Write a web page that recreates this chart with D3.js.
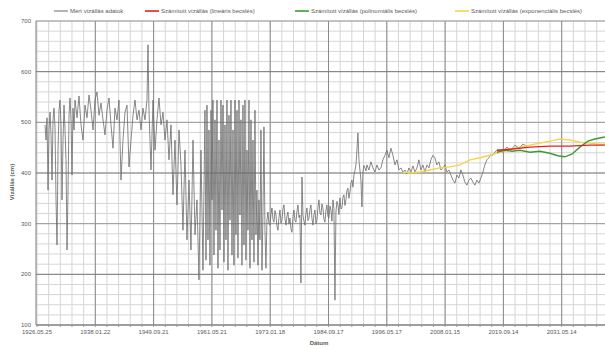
<!DOCTYPE html>
<html><head><meta charset="utf-8">
<script src="https://cdn.jsdelivr.net/npm/d3@7"></script>
<style>body{margin:0;background:#fff}svg{display:block}text{font-family:"Liberation Sans",Arial,sans-serif}</style>
</head><body><svg id="c" width="605" height="349"></svg>
<script>
// ---- data ----
const xTickLabels = ["1926.05.25","1938.01.22","1949.09.21","1961.05.21","1973.01.18","1984.09.17","1996.05.17","2008.01.15","2019.09.14","2031.05.14"];
const yTicks = [100,200,300,400,500,600,700];
const seriesNames = ["Mért vízállás adatok","Számított vízállás (lineáris becslés)","Számított vízállás (polinomiális becslés)","Számított vízállás (exponenciális becslés)"];
const seriesColors = ["#6a6a6a","#e8211d","#3f9a35","#f5d34a"];
// measured [decimal year, level]
const measured = [
[1928.0,495],[1928.2,465],[1928.4,509],[1928.6,366],[1928.8,485],[1929.0,520],[1929.2,475],[1929.4,386],[1929.6,505],[1929.8,528],
[1930.0,489],[1930.2,347],[1930.4,258],[1930.6,445],[1930.8,524],[1931.0,544],[1931.2,495],[1931.4,347],[1931.6,465],[1931.8,534],
[1932.0,485],[1932.2,426],[1932.4,248],[1932.6,366],[1932.8,514],[1933.0,548],[1933.2,505],[1933.4,396],[1933.6,528],[1933.8,485],[1934.0,544],
[1934.4,509],[1934.8,552],[1935.2,495],[1935.6,465],[1936.0,534],[1936.4,509],[1936.8,554],[1937.2,524],[1937.6,485],[1938.0,544],
[1938.4,560],[1938.8,514],[1939.2,538],[1939.6,505],[1940.0,475],[1940.4,524],[1940.8,548],[1941.2,495],[1941.6,449],[1942.0,528],
[1942.4,505],[1942.8,544],[1943.2,386],[1943.6,465],[1944.0,520],[1944.4,534],[1944.8,412],[1945.2,465],[1945.6,514],[1946.0,544],
[1946.4,505],[1946.8,524],[1947.2,485],[1947.6,528],[1948.0,505],[1948.4,544],[1948.6,653],[1948.8,524],[1949.2,406],[1949.6,544],
[1950.0,445],[1950.4,505],[1950.8,548],[1951.2,495],[1951.6,520],[1952.0,465],[1952.4,505],
[1952.8,426],[1953.2,495],[1953.6,357],[1954.0,465],[1954.4,337],[1954.8,485],[1955.2,416],[1955.6,287],[1956.0,445],[1956.4,268],
[1956.8,386],[1957.2,248],[1957.6,465],[1958.0,278],[1958.4,347],[1958.8,189],[1959.2,445],[1959.6,208],[1960.0,524],
[1960.2,228],[1960.4,534],[1960.6,268],[1960.8,485],[1961.0,218],[1961.2,524],[1961.4,347],[1961.6,544],[1961.8,238],[1962.0,505],
[1962.2,287],[1962.4,544],[1962.6,212],[1962.8,465],[1963.0,248],[1963.2,544],[1963.4,327],[1963.6,534],[1963.8,224],[1964.0,495],
[1964.2,268],[1964.4,544],[1964.6,208],[1964.8,514],[1965.0,307],[1965.2,544],[1965.4,238],[1965.6,485],[1965.8,218],[1966.0,544],
[1966.2,278],[1966.4,524],[1966.6,232],[1966.8,544],[1967.0,317],[1967.2,505],[1967.4,218],[1967.6,534],[1967.8,258],[1968.0,544],
[1968.2,228],[1968.4,445],[1968.6,287],[1968.8,544],[1969.0,212],[1969.2,505],[1969.4,268],[1969.6,465],[1969.8,224],[1970.0,524],
[1970.2,278],[1970.4,366],[1970.6,218],[1970.8,347],[1971.0,268],[1971.2,485],[1971.4,208],[1971.6,317],[1971.8,491],[1972.0,287],
[1972.2,212],[1972.4,307],
[1972.6,323],[1972.8,300],[1973.0,297],[1973.2,318],[1973.4,331],[1973.6,309],[1973.8,303],[1974.0,326],[1974.2,317],[1974.4,295],
[1974.6,287],[1974.8,312],[1975.0,327],[1975.2,301],[1975.4,307],[1975.6,329],[1975.8,337],[1976.0,310],[1976.2,297],[1976.4,315],
[1976.6,323],[1976.8,299],[1977.0,311],[1977.2,290],[1977.4,283],[1977.6,314],[1977.8,327],[1978.0,306],[1978.2,303],[1978.4,325],
[1978.6,337],[1978.8,312],[1979.0,317],[1979.2,183],[1979.4,392],[1979.6,317],[1979.8,305],[1980.0,297],[1980.2,320],[1980.4,331],
[1980.6,306],[1980.8,311],[1981.0,328],[1981.2,337],[1981.4,310],[1981.6,297],[1981.8,318],[1982.0,327],[1982.2,300],[1982.4,307],
[1982.6,332],[1982.8,347],[1983.0,321],[1983.2,317],[1983.4,339],[1983.6,331],[1983.8,309],[1984.0,303],[1984.2,326],[1984.4,337],
[1984.6,314],[1984.8,311],[1985.0,335],[1985.2,327],[1985.4,305],[1985.6,347],[1985.8,330],[1986.0,149],[1986.2,323],[1986.4,344],
[1986.6,337],[1986.8,318],[1987.0,351],[1987.2,329],[1987.4,331],[1987.6,352],[1987.8,357],[1988.0,336],[1988.2,347],[1988.4,366],
[1988.6,370],[1988.8,350],[1989.0,362],[1989.2,381],[1989.4,386],[1989.6,372],[1989.8,396],[1990.0,405],[1990.2,416],[1990.4,445],
[1990.6,479],[1990.8,426],[1991.0,406],[1991.2,386],[1991.4,333],[1991.6,402],[1991.8,415],[1992.0,410],[1992.2,404],[1992.4,416],
[1992.8,406],[1993.2,422],[1993.6,410],[1994.0,402],[1994.4,416],[1994.8,406],[1995.2,410],[1995.6,426],[1996.0,435],[1996.4,445],
[1996.8,430],[1997.2,449],[1997.6,435],[1998.0,416],[1998.4,426],[1998.8,406],[1999.2,410],[1999.6,402],[2000.0,406],[2000.4,398],
[2000.8,410],[2001.2,402],[2001.6,414],[2002.0,402],[2002.4,410],[2002.8,426],[2003.2,406],[2003.6,416],[2004.0,402],[2004.4,416],
[2004.8,410],[2005.2,426],[2005.6,435],[2006.0,430],[2006.4,416],[2006.8,422],[2007.2,406],[2007.6,410],[2008.0,416],[2008.4,402],
[2008.8,406],[2009.2,396],[2009.6,386],[2010.0,380],[2010.4,396],[2010.8,390],[2011.2,406],[2011.6,396],[2012.0,382],[2012.4,376],
[2012.8,386],[2013.2,390],[2013.6,382],[2014.0,376],[2014.4,386],[2014.8,380],[2015.2,390],[2015.6,402],[2016.0,416],[2016.4,426],
[2016.8,430],[2017.2,437],[2017.6,435],[2018.0,441],[2018.4,445],[2018.8,445],[2019.6,441],[2020.4,451],[2021.2,445],[2022.0,455],
[2022.8,449],[2023.6,457],[2024.4,453]
];
const linearFit = [[2018.4,445],[2021.0,447],[2025.0,451],[2029.0,453],[2033.0,453],[2037.0,455],[2040.0,455]];
const polyFit = [[2018.4,441],[2020.0,445],[2021.4,443],[2023.0,445],[2025.0,441],[2027.0,443],[2029.0,439],[2030.6,434],[2032.0,432],[2033.4,437],[2035.0,451],[2036.6,463],[2038.0,467],[2040.0,471]];
const expFit = [[1999.6,402],[2001.0,400],[2003.0,402],[2005.0,406],[2007.0,410],[2009.0,412],[2011.0,416],[2013.0,426],[2015.0,430],[2017.0,435],[2019.0,441],[2021.0,447],[2023.0,451],[2025.0,455],[2027.0,459],[2029.0,463],[2031.0,467],[2033.0,465],[2035.0,461],[2037.0,459],[2039.0,457],[2040.0,457]];

// ---- layout ----
const L=36, R=605, T=21, B=325;
const svg=d3.select("#c");
const parse=d3.utcParse("%Y.%m.%d");
const tickDates=xTickLabels.map(parse);
const step=58.3;
const x=d3.scaleUtc().domain([tickDates[0],tickDates[tickDates.length-1]]).range([37,37+step*(tickDates.length-1)]);
const y=d3.scaleLinear().domain([100,700]).range([B,T]);
function yd(v){const yr=Math.floor(v);const a=Date.UTC(yr,0,1),b=Date.UTC(yr+1,0,1);return new Date(a+(v-yr)*(b-a));}

const g=svg.append("g");
const dt=(tickDates[1]-tickDates[0])/5;
const minorX=[];
for(let t=+tickDates[0]; x(new Date(t))<=R; t+=dt) minorX.push(new Date(t));
g.selectAll(".mvx").data(minorX).join("line").attr("x1",d=>x(d)).attr("x2",d=>x(d)).attr("y1",T).attr("y2",B).attr("stroke","#d6d6d6").attr("stroke-width",1);
const minorY=d3.range(100,701,20);
g.selectAll(".mhy").data(minorY).join("line").attr("x1",L).attr("x2",R).attr("y1",d=>y(d)).attr("y2",d=>y(d)).attr("stroke","#d6d6d6");
g.selectAll(".Mx").data(tickDates.slice(1)).join("line").attr("x1",d=>x(d)).attr("x2",d=>x(d)).attr("y1",T).attr("y2",B).attr("stroke","#8a8a8a");
g.selectAll(".My").data(yTicks).join("line").attr("x1",L).attr("x2",R).attr("y1",d=>y(d)).attr("y2",d=>y(d)).attr("stroke",d=>d%200===0?"#7a7a7a":"#9a9a9a");
g.append("line").attr("x1",L).attr("x2",L).attr("y1",T).attr("y2",B).attr("stroke","#7a7a7a");
g.append("line").attr("x1",L).attr("x2",R).attr("y1",B).attr("y2",B).attr("stroke","#7a7a7a");
g.selectAll(".tk").data(minorX).join("line").attr("x1",d=>x(d)).attr("x2",d=>x(d)).attr("y1",B).attr("y2",B+2).attr("stroke","#9a9a9a");

const lab="#5a5a5a";
svg.append("g").selectAll("text").data(yTicks).join("text").attr("x",31).attr("y",d=>y(d)+2).attr("text-anchor","end").attr("font-size",6).attr("fill",lab).text(d=>d);
svg.append("g").selectAll("text").data(tickDates).join("text").attr("x",d=>x(d)).attr("y",334).attr("text-anchor","middle").attr("font-size",6).attr("fill",lab).text((d,i)=>xTickLabels[i]);
svg.append("text").attr("x",319).attr("y",345).attr("text-anchor","middle").attr("font-size",6).attr("font-weight","bold").attr("fill",lab).text("Dátum");
svg.append("text").attr("transform","translate(14,182) rotate(-90)").attr("text-anchor","middle").attr("font-size",6).attr("font-weight","bold").attr("fill",lab).text("Vízállás (cm)");

svg.append("clipPath").attr("id","clip").append("rect").attr("x",L).attr("y",T-2).attr("width",R-L).attr("height",B-T+2);
const line=d3.line().x(d=>x(yd(d[0]))).y(d=>y(d[1]));
const plot=svg.append("g").attr("clip-path","url(#clip)");
plot.append("path").attr("d",line(measured)).attr("fill","none").attr("stroke",seriesColors[0]).attr("stroke-width",0.8);
plot.append("path").attr("d",line(expFit)).attr("fill","none").attr("stroke",seriesColors[3]).attr("stroke-width",1.4);
plot.append("path").attr("d",line(polyFit)).attr("fill","none").attr("stroke",seriesColors[2]).attr("stroke-width",1.4);
plot.append("path").attr("d",line(linearFit)).attr("fill","none").attr("stroke",seriesColors[1]).attr("stroke-width",1.4);

const legX=[54,145,295,455];
const lg=svg.append("g");
seriesNames.forEach((n,i)=>{
  lg.append("line").attr("x1",legX[i]).attr("x2",legX[i]+14).attr("y1",11).attr("y2",11).attr("stroke",seriesColors[i]).attr("stroke-width",i===0?1:1.6);
  lg.append("text").attr("x",legX[i]+16).attr("y",13).attr("font-size",6).attr("fill",lab).text(n);
});
</script></body></html>
